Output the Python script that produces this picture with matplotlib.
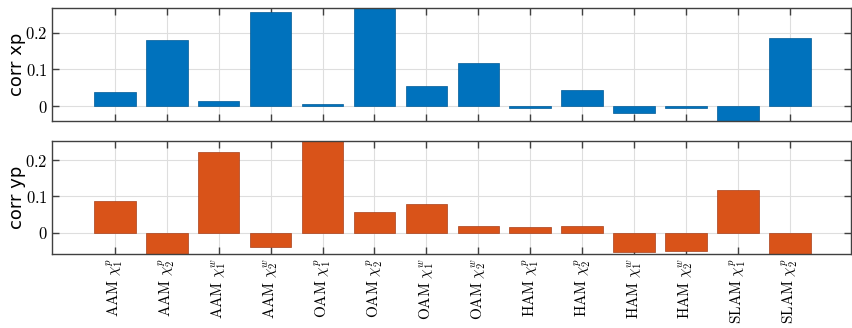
import matplotlib
matplotlib.use("Agg")
import matplotlib.pyplot as plt
import numpy as np

labels = [r"$\mathrm{AAM}\ \chi_1^p$", r"$\mathrm{AAM}\ \chi_2^p$",
          r"$\mathrm{AAM}\ \chi_1^w$", r"$\mathrm{AAM}\ \chi_2^w$",
          r"$\mathrm{OAM}\ \chi_1^p$", r"$\mathrm{OAM}\ \chi_2^p$",
          r"$\mathrm{OAM}\ \chi_1^w$", r"$\mathrm{OAM}\ \chi_2^w$",
          r"$\mathrm{HAM}\ \chi_1^p$", r"$\mathrm{HAM}\ \chi_2^p$",
          r"$\mathrm{HAM}\ \chi_1^w$", r"$\mathrm{HAM}\ \chi_2^w$",
          r"$\mathrm{SLAM}\ \chi_1^p$", r"$\mathrm{SLAM}\ \chi_2^p$"]
corr_xp = [0.039, 0.181, 0.014, 0.257, 0.005, 0.30, 0.054,
           0.118, -0.004, 0.043, -0.019, -0.005, -0.05, 0.185]
corr_yp = [0.088, -0.07, 0.224, -0.040, 0.28, 0.056, 0.080,
           0.019, 0.016, 0.019, -0.054, -0.051, 0.117, -0.07]

plt.rcParams['mathtext.fontset'] = 'cm'
plt.rcParams['font.family'] = 'serif'
plt.rcParams['font.serif'] = ['DejaVu Serif']

fig = plt.figure(figsize=(8.52, 3.28), dpi=100)
ax1 = fig.add_axes([0.061, 0.632, 0.938, 0.343])
ax2 = fig.add_axes([0.061, 0.2265, 0.938, 0.3445])

x = np.arange(1, len(labels) + 1)

def style(ax, ylim, ylabel):
    ax.set_xlim(-0.21, 15.18)
    ax.set_ylim(*ylim)
    ax.set_xticks(x)
    ax.set_yticks([0, 0.1, 0.2])
    ax.set_yticklabels([r"$0$", r"$0.1$", r"$0.2$"], fontsize=12)
    ax.grid(True, color='0.87', linewidth=0.8)
    ax.set_axisbelow(True)
    ax.tick_params(direction='in', top=True, right=True, length=5,
                   color='0.25', width=1, pad=3)
    for s in ax.spines.values():
        s.set_color('0.25')
        s.set_linewidth(1)
    ax.set_ylabel(ylabel, family='DejaVu Sans', fontsize=13)

ax1.bar(x, corr_xp, width=0.8, color='#0072BD', edgecolor='#005a96', linewidth=0.5)
style(ax1, (-0.039, 0.266), 'corr xp')
ax1.set_xticklabels([])

ax2.bar(x, corr_yp, width=0.8, color='#D95319', edgecolor='#a8401a', linewidth=0.5)
style(ax2, (-0.058, 0.254), 'corr yp')
ax2.set_xticklabels(labels, rotation=90, fontsize=11)

ax1.yaxis.set_label_coords(-0.032, 0.5)
ax2.yaxis.set_label_coords(-0.032, 0.5)

fig.savefig("out.png", dpi=100)
